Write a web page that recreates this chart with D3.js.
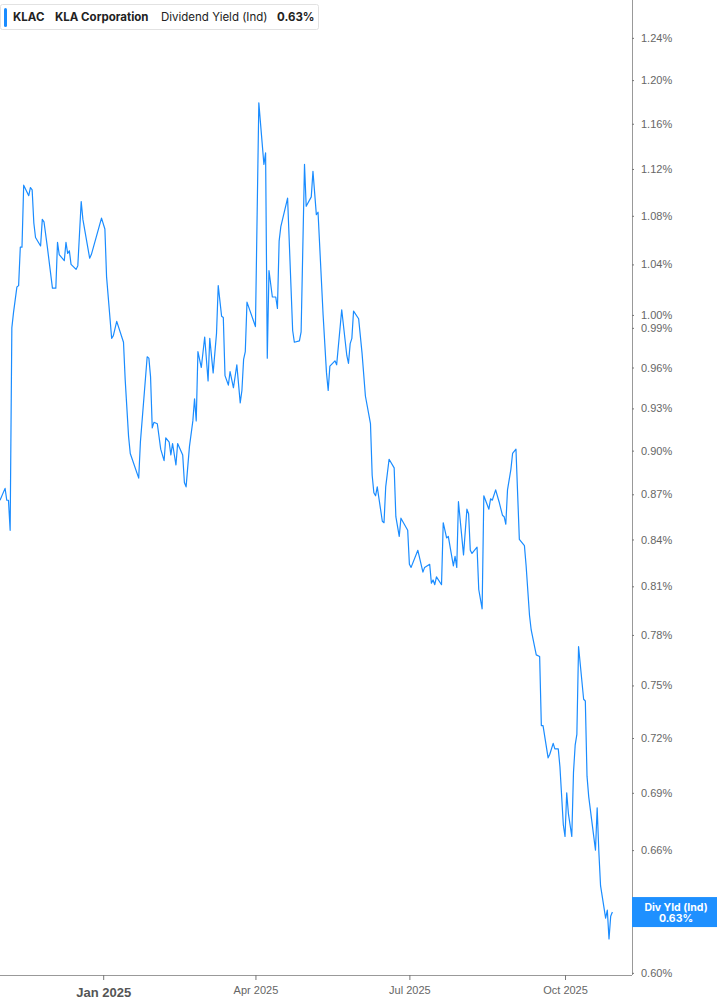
<!DOCTYPE html>
<meta charset="utf-8">
<style>
body { margin: 0; background: #fff; }
svg { display: block; font-family: Inter, "Open Sans", sans-serif; }
.axis .domain { stroke: #999; }
.axis line { stroke: #777; }
.axis text { fill: #666; font-size: 11px; }
</style>
<svg width="717" height="1005"></svg>
<script src="https://cdnjs.cloudflare.com/ajax/libs/d3/7.8.5/d3.min.js"></script>
<script>

// KLAC dividend yield (ind), %
var dates = [
  "2024-11-01","2024-11-04","2024-11-05","2024-11-06","2024-11-07","2024-11-08","2024-11-09","2024-11-11",
  "2024-11-12","2024-11-13","2024-11-14","2024-11-15","2024-11-18","2024-11-19","2024-11-20","2024-11-21",
  "2024-11-22","2024-11-25","2024-11-26","2024-11-27","2024-11-29","2024-12-02","2024-12-04","2024-12-05",
  "2024-12-06","2024-12-09","2024-12-10","2024-12-11","2024-12-12","2024-12-13","2024-12-16","2024-12-17",
  "2024-12-19","2024-12-20","2024-12-24","2024-12-25","2024-12-31","2025-01-02","2025-01-03","2025-01-06",
  "2025-01-07","2025-01-09","2025-01-13","2025-01-14","2025-01-16","2025-01-17","2025-01-22","2025-01-23",
  "2025-01-27","2025-01-28","2025-01-29","2025-01-30","2025-01-31","2025-02-02","2025-02-04","2025-02-06",
  "2025-02-07","2025-02-09","2025-02-10","2025-02-11","2025-02-13","2025-02-14","2025-02-17","2025-02-18",
  "2025-02-19","2025-02-21","2025-02-23","2025-02-24","2025-02-25","2025-02-26","2025-02-28","2025-03-02",
  "2025-03-04","2025-03-05","2025-03-07","2025-03-09","2025-03-10","2025-03-12","2025-03-13","2025-03-14",
  "2025-03-16","2025-03-17","2025-03-19","2025-03-21","2025-03-23","2025-03-24","2025-03-25","2025-03-26",
  "2025-03-27","2025-04-01","2025-04-03","2025-04-06","2025-04-07","2025-04-08","2025-04-09","2025-04-11",
  "2025-04-13","2025-04-14","2025-04-15","2025-04-16","2025-04-20","2025-04-23","2025-04-24","2025-04-27",
  "2025-04-28","2025-04-30","2025-05-01","2025-05-04","2025-05-05","2025-05-07","2025-05-08","2025-05-11",
  "2025-05-13","2025-05-14","2025-05-15","2025-05-18","2025-05-19","2025-05-22","2025-05-25","2025-05-26",
  "2025-05-27","2025-05-28","2025-05-29","2025-06-01","2025-06-03","2025-06-05","2025-06-08","2025-06-09",
  "2025-06-10","2025-06-11","2025-06-12","2025-06-15","2025-06-16","2025-06-17","2025-06-19","2025-06-22",
  "2025-06-23","2025-06-25","2025-06-26","2025-06-30","2025-07-01","2025-07-02","2025-07-06","2025-07-09",
  "2025-07-10","2025-07-13","2025-07-14","2025-07-15","2025-07-16","2025-07-17","2025-07-20","2025-07-21",
  "2025-07-23","2025-07-24","2025-07-27","2025-07-28","2025-07-29","2025-07-30","2025-08-02","2025-08-04",
  "2025-08-05","2025-08-06","2025-08-07","2025-08-10","2025-08-11","2025-08-13","2025-08-14","2025-08-17",
  "2025-08-18","2025-08-19","2025-08-21","2025-08-23","2025-08-25","2025-08-26","2025-08-27","2025-08-28",
  "2025-08-30","2025-08-31","2025-09-02","2025-09-04","2025-09-07","2025-09-08","2025-09-10","2025-09-11",
  "2025-09-14","2025-09-16","2025-09-17","2025-09-18","2025-09-21","2025-09-22","2025-09-24","2025-09-25",
  "2025-09-27","2025-09-28","2025-09-30","2025-10-01","2025-10-02","2025-10-03","2025-10-05","2025-10-06",
  "2025-10-07","2025-10-08","2025-10-09","2025-10-12","2025-10-13","2025-10-14","2025-10-15","2025-10-19",
  "2025-10-20","2025-10-21","2025-10-22","2025-10-25","2025-10-26","2025-10-27","2025-10-28","2025-10-29"
];

var yields = [
  0.866,0.874,0.866,0.866,0.846,0.990,1.002,1.022,
  1.023,1.054,1.054,1.106,1.097,1.104,1.102,1.074,
  1.062,1.055,1.077,1.075,1.054,1.021,1.021,1.058,
  1.048,1.043,1.058,1.049,1.051,1.040,1.036,1.039,
  1.092,1.077,1.045,1.048,1.078,1.069,1.030,0.982,
  0.984,0.995,0.979,0.951,0.910,0.898,0.881,0.906,
  0.968,0.967,0.953,0.916,0.920,0.919,0.901,0.893,
  0.909,0.906,0.897,0.905,0.890,0.905,0.897,0.878,
  0.875,0.903,0.921,0.937,0.921,0.972,0.960,0.983,
  0.950,0.982,0.956,0.986,1.023,0.999,0.998,0.954,
  0.947,0.957,0.945,0.962,0.934,0.943,0.966,0.972,
  1.010,0.991,1.179,1.124,1.134,0.967,1.035,1.014,
  1.014,1.005,1.059,1.071,1.095,0.988,0.979,0.980,
  0.987,1.124,1.088,1.096,1.118,1.081,1.083,1.000,
  0.956,0.943,0.961,0.965,0.962,1.004,0.969,0.963,
  0.978,0.982,1.003,0.997,0.971,0.939,0.919,0.883,
  0.871,0.869,0.875,0.852,0.851,0.875,0.894,0.888,
  0.855,0.842,0.854,0.846,0.824,0.822,0.833,0.819,
  0.822,0.824,0.812,0.814,0.811,0.816,0.811,0.851,
  0.841,0.842,0.823,0.829,0.822,0.865,0.830,0.860,
  0.857,0.833,0.831,0.835,0.808,0.796,0.869,0.860,
  0.867,0.866,0.873,0.865,0.856,0.855,0.850,0.873,
  0.887,0.898,0.901,0.840,0.836,0.823,0.792,0.783,
  0.768,0.767,0.727,0.727,0.709,0.711,0.717,0.714,
  0.714,0.704,0.673,0.667,0.690,0.679,0.667,0.701,
  0.716,0.722,0.773,0.742,0.741,0.699,0.688,0.660,
  0.682,0.659,0.642,0.626,0.630,0.616,0.627,0.629
];

var yTicks = [0.60,0.63,0.66,0.69,0.72,0.75,0.78,0.81,0.84,0.87,0.90,0.93,0.96,0.99,1.00,1.04,1.08,1.12,1.16,1.20,1.24];
var xTicks = ["2025-01-01","2025-04-01","2025-07-01","2025-10-01"];
var ticker = "KLAC", company = "KLA Corporation", metric = "Dividend Yield (Ind)";
var lastLabel = "Div Yld (Ind)";

var parse = d3.utcParse("%Y-%m-%d");
var data = dates.map(function(d, i) { return {date: parse(d), value: yields[i]}; });

var svg = d3.select("svg"),
    plotW = 631,
    plotH = 975,
    blue = "#1a8cff";

var x = d3.scaleUtc()
    .domain([parse("2024-11-01"), parse("2025-11-09")])
    .range([0, plotW]);

var y = d3.scaleLog()
    .domain([0.599, 1.277])
    .range([plotH, 0]);

var line = d3.line()
    .x(function(d) { return x(d.date); })
    .y(function(d) { return y(d.value); });

svg.append("path")
    .datum(data)
    .attr("fill", "none")
    .attr("stroke", blue)
    .attr("stroke-width", 1.2)
    .attr("stroke-linejoin", "round")
    .attr("d", line);

// bottom axis
var fmtMonth = d3.utcFormat("%b %Y");
var xAxis = svg.append("g")
    .attr("class", "axis x")
    .attr("transform", "translate(0," + plotH + ")")
    .call(d3.axisBottom(x)
      .tickValues(xTicks.map(parse))
      .tickSize(5)
      .tickSizeOuter(0)
      .tickPadding(6)
      .tickFormat(fmtMonth));
xAxis.select(".domain").attr("d", "M0,0.5H" + (plotW + 1));
xAxis.selectAll("text")
    .style("font-size", function(d) { return d.getUTCMonth() === 0 ? "13px" : "11px"; })
    .style("font-weight", function(d) { return d.getUTCMonth() === 0 ? "bold" : "normal"; })
    .style("fill", function(d) { return d.getUTCMonth() === 0 ? "#555" : "#666"; })
    .attr("dy", function(d) { return d.getUTCMonth() === 0 ? "0.85em" : "0.71em"; });

// right axis
var last = data[data.length - 1];
var tagTop = y(last.value) - 15, tagH = 30;

var yAxis = svg.append("g")
    .attr("class", "axis y")
    .attr("transform", "translate(" + (plotW + 1) + ",0)")
    .call(d3.axisRight(y)
      .tickValues(yTicks)
      .tickSize(2)
      .tickSizeOuter(0)
      .tickPadding(7)
      .tickFormat(function(d) { return d.toFixed(2) + "%"; }));
yAxis.select(".domain").attr("d", "M0.5,0V" + plotH);
// the last-value tag sits on top of the tick label it covers
yAxis.selectAll(".tick text")
    .filter(function(d) { return y(d) > tagTop && y(d) < tagTop + tagH; })
    .remove();

// last value tag
var tag = svg.append("g")
    .attr("transform", "translate(" + (plotW + 1) + "," + tagTop + ")");
tag.append("rect")
    .attr("width", 717 - plotW)
    .attr("height", tagH)
    .attr("fill", "#1e90ff");
tag.append("text")
    .attr("x", 44)
    .attr("y", 13.5)
    .attr("text-anchor", "middle")
    .attr("fill", "#fff")
    .attr("font-size", 10.5)
    .attr("font-weight", "bold")
    .text(lastLabel);
tag.append("text")
    .attr("x", 44)
    .attr("y", 25)
    .attr("text-anchor", "middle")
    .attr("fill", "#fff")
    .attr("font-size", 10.5)
    .attr("font-weight", "bold")
    .text(last.value.toFixed(2) + "%");

// legend
var legend = svg.append("g").attr("transform", "translate(0,4)");
legend.append("rect")
    .attr("x", 0.5)
    .attr("y", 0.5)
    .attr("width", 318)
    .attr("height", 25)
    .attr("rx", 2)
    .attr("fill", "#fff")
    .attr("stroke", "#e2e2e2");
legend.append("rect")
    .attr("x", 4)
    .attr("y", 4)
    .attr("width", 3)
    .attr("height", 19)
    .attr("rx", 1.5)
    .attr("fill", blue);

var legendText = legend.append("text")
    .attr("y", 17)
    .attr("font-size", 11.5)
    .attr("fill", "#222");
legendText.append("tspan").attr("x", 13).attr("font-weight", "bold").text(ticker);
legendText.append("tspan").attr("x", 55).attr("font-weight", "bold").text(company);
legendText.append("tspan").attr("x", 161).text(metric);
legendText.append("tspan").attr("x", 277).attr("font-weight", "bold").text(last.value.toFixed(2) + "%");

</script>
